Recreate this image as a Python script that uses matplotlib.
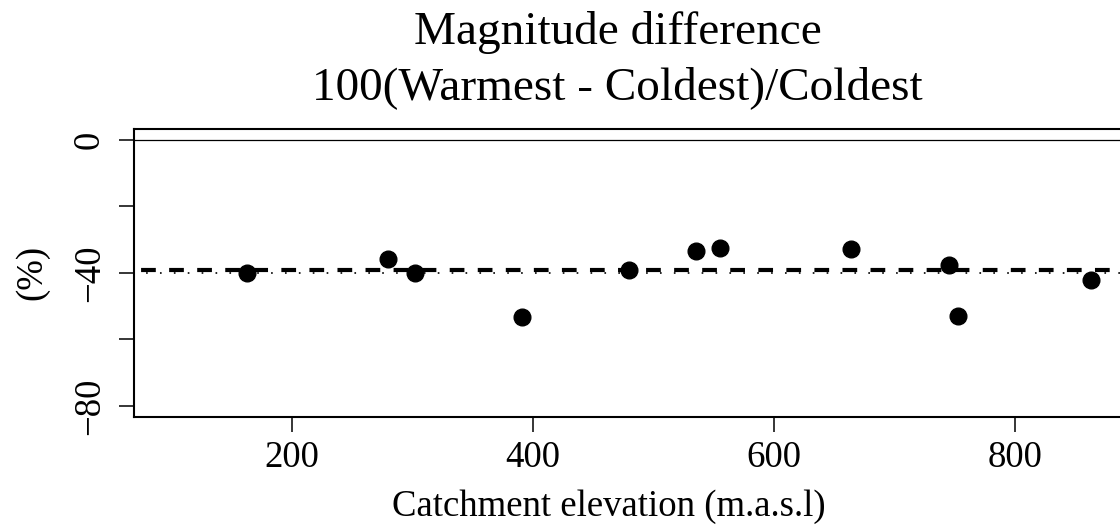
import numpy as np
import matplotlib
matplotlib.use('Agg')
import matplotlib.pyplot as plt

plt.rcParams['font.family'] = ['Liberation Serif', 'DejaVu Serif']
plt.rcParams['lines.scale_dashes'] = False

# catchment elevation (m.a.s.l) and magnitude change (%)
elevation = [163, 280, 302, 391, 480, 535, 555, 664, 745, 753, 863]
diff_pct = [-39.9, -35.9, -39.9, -53.4, -39.0, -33.4, -32.5, -32.9, -37.7, -53.0, -42.0]

x_ticks = [200, 400, 600, 800]
y_ticks = [-80, -60, -40, -20, 0]
y_ticklabels = ['\u221280', '', '\u221240', '', '0']

FS = 26.5
FS_TITLE = 34

fig = plt.figure(figsize=(11.2, 5.28), dpi=100)
# plot region runs past the right edge of the figure
ax = fig.add_axes([0.1199, 0.2108, 0.9479, 0.5449])

ax.plot(elevation, diff_pct, 'o', color='black', markersize=12, zorder=3)
ax.axhline(0, color='black', lw=0.9)
# median (dashed) and mean (dotted) reference lines
ax.axhline(np.median(diff_pct), color='black', lw=3.0, linestyle=(15.1, (10.6, 9.6)))
ax.axhline(np.mean(diff_pct), color='black', lw=1.2, linestyle=(1.3, (1.2, 8.8)))

ax.set_xlim(69.4, 950)
ax.set_ylim(-83.2, 3.2)

ax.set_xticks(x_ticks)
ax.set_xticklabels([str(v) for v in x_ticks], fontsize=FS)
ax.set_yticks(y_ticks)
ax.set_yticklabels(y_ticklabels, fontsize=FS, rotation=90, va='center')
ax.tick_params(axis='both', direction='out', length=11, width=1.1, color='black')
ax.tick_params(axis='x', pad=5.9)
ax.tick_params(axis='y', pad=8.6)

for sp in ax.spines.values():
    sp.set_linewidth(1.5)

fig.text(0.5518, 0.9167, 'Magnitude difference', ha='center', va='baseline', fontsize=FS_TITLE)
fig.text(0.5515, 0.8125, '100(Warmest - Coldest)/Coldest', ha='center', va='baseline', fontsize=FS_TITLE)
fig.text(0.5437, 0.0227, 'Catchment elevation (m.a.s.l)', ha='center', va='baseline', fontsize=FS)
fig.text(0.0286, 0.484, '(%)', ha='center', va='center', rotation=90, fontsize=FS)

fig.savefig('out.png', dpi=100)
